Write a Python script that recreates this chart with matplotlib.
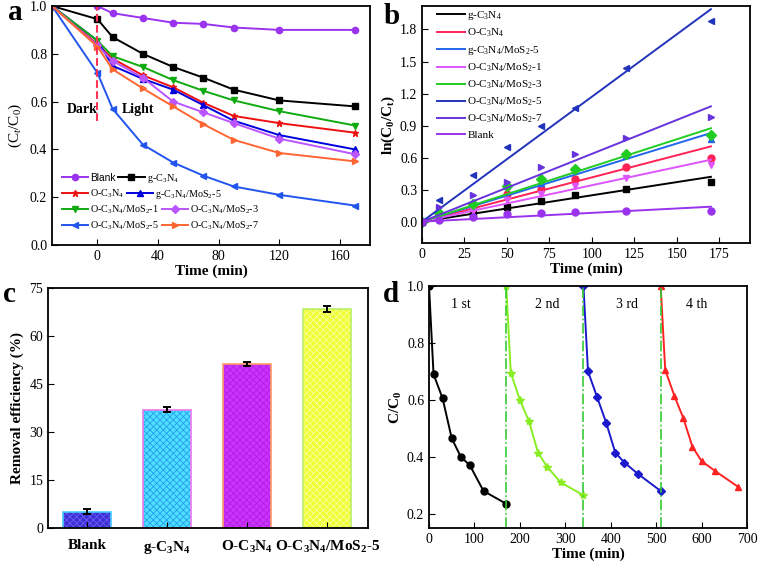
import numpy as np
import matplotlib
matplotlib.use("Agg")
import matplotlib.pyplot as plt
from matplotlib.legend import Legend

plt.rcParams['font.family'] = ['Liberation Serif', 'DejaVu Serif']
plt.rcParams['mathtext.fontset'] = 'custom'
plt.rcParams['mathtext.rm'] = 'Liberation Serif'
plt.rcParams['mathtext.it'] = 'Liberation Serif:italic'
plt.rcParams['mathtext.bf'] = 'Liberation Serif:bold'
plt.rcParams['xtick.direction'] = 'in'
plt.rcParams['ytick.direction'] = 'in'
plt.rcParams['axes.linewidth'] = 1.3
plt.rcParams['hatch.linewidth'] = 0.6

# ---------------- panel a : degradation curves ----------------
time_a = [-30, 0, 10, 30, 50, 70, 90, 120, 170]
a_blank = [1.0, 1.0, 0.97, 0.95, 0.93, 0.925, 0.91, 0.90, 0.90]
a_gcn = [1.0, 0.945, 0.87, 0.80, 0.745, 0.70, 0.65, 0.605, 0.58]
a_ocn = [1.0, 0.84, 0.78, 0.71, 0.66, 0.595, 0.54, 0.51, 0.47]
a_gcn_mos5 = [1.0, 0.855, 0.75, 0.695, 0.65, 0.585, 0.52, 0.46, 0.40]
a_ocn_mos1 = [1.0, 0.855, 0.79, 0.745, 0.69, 0.645, 0.605, 0.56, 0.50]
a_ocn_mos3 = [1.0, 0.835, 0.77, 0.70, 0.60, 0.555, 0.51, 0.445, 0.38]
a_ocn_mos5 = [1.0, 0.72, 0.57, 0.42, 0.345, 0.29, 0.245, 0.21, 0.165]
a_ocn_mos7 = [1.0, 0.83, 0.735, 0.655, 0.58, 0.505, 0.44, 0.385, 0.35]

# ---------------- panel b : kinetics ----------------
time_b = [0, 10, 30, 50, 70, 90, 120, 170]
b_gcn = [0, 0.03, 0.07, 0.14, 0.19, 0.25, 0.305, 0.375]
b_ocn = [0, 0.07, 0.13, 0.26, 0.31, 0.40, 0.51, 0.60]
b_gcn_mos5 = [0, 0.11, 0.18, 0.33, 0.36, 0.50, 0.62, 0.77]
b_ocn_mos1 = [0, 0.05, 0.10, 0.20, 0.26, 0.33, 0.41, 0.53]
b_ocn_mos3 = [0, 0.08, 0.17, 0.33, 0.40, 0.49, 0.63, 0.81]
b_ocn_mos5 = [0, 0.20, 0.44, 0.695, 0.90, 1.06, 1.44, 1.88]
b_ocn_mos7 = [0, 0.14, 0.25, 0.375, 0.515, 0.63, 0.78, 0.98]
b_blank = [0, 0.02, 0.04, 0.07, 0.077, 0.09, 0.10, 0.10]
# end points of the fitted lines (t = 0 and t = 170)
fit_t = [0, 170]
fit_end = [0.42, 0.705, 0.83, 0.58, 0.875, 1.99, 1.08, 0.14]

# ---------------- panel c : removal efficiency ----------------
c_labels = ['Blank', r'g-C$_\mathbf{3}$N$_\mathbf{4}$', r'O-C$_\mathbf{3}$N$_\mathbf{4}$',
            r'O-C$_\mathbf{3}$N$_\mathbf{4}$/MoS$_\mathbf{2}$-5']
c_values = [5.1, 37.0, 51.3, 68.5]
c_errors = [0.8, 0.9, 0.6, 0.9]

# ---------------- panel d : recycling ----------------
d_t1 = [0, 10, 30, 50, 70, 90, 120, 170]
d_c1 = [1.0, 0.69, 0.605, 0.465, 0.40, 0.37, 0.28, 0.235]
d_t2 = [170, 180, 200, 220, 240, 260, 290, 340]
d_c2 = [1.0, 0.695, 0.60, 0.525, 0.415, 0.365, 0.31, 0.265]
d_t3 = [340, 350, 370, 390, 410, 430, 460, 510]
d_c3 = [1.0, 0.70, 0.61, 0.52, 0.415, 0.38, 0.34, 0.28]
d_t4 = [510, 520, 540, 560, 580, 600, 630, 680]
d_c4 = [1.0, 0.705, 0.615, 0.535, 0.435, 0.385, 0.35, 0.295]
cycle_bounds = [170, 340, 510]
cycle_names = ['1 st', '2 nd', '3 rd', '4 th']
cycle_text_x = [70, 260, 435, 590]

lbl_blank = 'Blank'
lbl_gcn = r'g-C$_3$N$_4$'
lbl_ocn = r'O-C$_3$N$_4$'
lbl_gcn5 = r'g-C$_3$N$_4$/MoS$_2$-5'
lbl_ocn1 = r'O-C$_3$N$_4$/MoS$_2$-1'
lbl_ocn3 = r'O-C$_3$N$_4$/MoS$_2$-3'
lbl_ocn5 = r'O-C$_3$N$_4$/MoS$_2$-5'
lbl_ocn7 = r'O-C$_3$N$_4$/MoS$_2$-7'

fig = plt.figure(figsize=(7.58, 5.70), dpi=100)
W, H = 758.0, 570.0


def add_ax(l, t, r, b):
    return fig.add_axes([l / W, 1 - b / H, (r - l) / W, (b - t) / H])


TICK = 10
LAB = 11

# ======================= a =======================
ax = add_ax(52, 6, 370, 245)
series_a = [
    (a_blank, '#9933ee', 'o', lbl_blank),
    (a_gcn, 'black', 's', lbl_gcn),
    (a_ocn, '#ee1111', '*', lbl_ocn),
    (a_gcn_mos5, '#0000dd', '^', lbl_gcn5),
    (a_ocn_mos1, '#11aa11', 'v', lbl_ocn1),
    (a_ocn_mos3, '#bb55ff', 'D', lbl_ocn3),
    (a_ocn_mos5, '#2255ee', '<', lbl_ocn5),
    (a_ocn_mos7, '#ff6633', '>', lbl_ocn7),
]
handles = []
for vals, col, mk, lb in series_a:
    h, = ax.plot(time_a, vals, color=col, marker=mk, ms=4.5, lw=1.4, label=lb)
    handles.append(h)
ax.plot([0, 0], [0.52, 1.0], color='#ff3355', ls='--', lw=1.5)
ax.text(-10, 0.567, 'Dark', ha='center', va='center', fontsize=10, fontweight='bold')
ax.text(27, 0.567, 'Light', ha='center', va='center', fontsize=10, fontweight='bold')
ax.set_xlim(-30, 180)
ax.set_ylim(0, 1.0)
ax.set_xticks([0, 40, 80, 120, 160])
ax.set_yticks(np.arange(0, 1.01, 0.2))
ax.yaxis.set_major_formatter(matplotlib.ticker.FormatStrFormatter('%.1f'))
ax.tick_params(labelsize=TICK, length=4)
ax.set_xlabel('Time (min)', fontsize=LAB, fontweight='bold', labelpad=1)
ax.set_ylabel(r'(C$_t$/C$_0$)', fontsize=LAB, labelpad=4)

# legend rows flow left to right, so one small legend per row
row_y = [0.280, 0.213, 0.146, 0.079]
for r, yy in enumerate(row_y):
    pair = handles[2 * r:2 * r + 2]
    leg = Legend(ax, pair, [p.get_label() for p in pair], ncol=2, loc='center left',
                 bbox_to_anchor=(0.031, yy), frameon=False, fontsize=7.3,
                 handlelength=2.6, columnspacing=0.25, handletextpad=0.2,
                 borderpad=0, borderaxespad=0)
    if r == 0:
        leg.get_texts()[0].set_fontfamily('Liberation Sans')
    ax.add_artist(leg)

# ======================= b =======================
ax = add_ax(422, 6, 750, 243)
series_b = [
    (b_gcn, 'black', 's', lbl_gcn),
    (b_ocn, '#ff2255', 'o', lbl_ocn),
    (b_gcn_mos5, '#2266ee', '^', lbl_gcn5),
    (b_ocn_mos1, '#dd55ff', 'v', lbl_ocn1),
    (b_ocn_mos3, '#22cc22', 'D', lbl_ocn3),
    (b_ocn_mos5, '#2233bb', '<', lbl_ocn5),
    (b_ocn_mos7, '#6633dd', '>', lbl_ocn7),
    (b_blank, '#9933ee', 'o', lbl_blank),
]
for (vals, col, mk, lb), end in zip(series_b, fit_end):
    ax.plot(fit_t, [0, end], color=col, lw=1.4, label=lb)
    ax.plot(time_b, vals, ls='none', marker=mk, color=col, ms=5)
ax.set_xlim(0, 193)
ax.set_ylim(-0.2, 2.02)
ax.set_xticks(np.arange(0, 176, 25))
ax.set_yticks(np.arange(0, 1.81, 0.3))
ax.yaxis.set_major_formatter(matplotlib.ticker.FormatStrFormatter('%.1f'))
ax.tick_params(labelsize=TICK, length=4)
ax.set_xlabel('Time (min)', fontsize=LAB, fontweight='bold', labelpad=1)
ax.set_ylabel(r'ln(C$_\mathbf{0}$/C$_\mathbf{t}$)', fontsize=LAB, fontweight='bold', labelpad=2)
ax.legend(loc='upper left', bbox_to_anchor=(0.02, 1.025), frameon=False, fontsize=8,
          handlelength=2.5, labelspacing=0.42, handletextpad=0.2, borderpad=0.3)

# ======================= c =======================
ax = add_ax(48, 288, 368, 528)
face = ['#3b2fd6', '#4de0ff', '#cc33ff', '#eeff33']
hatch_col = ['#6a5cf0', '#2a9cf0', '#b020e0', '#f8ff99']
edge = ['#44ccff', '#ee77ee', '#ff9966', '#bbee66']
xpos = np.arange(len(c_values))
ax.bar(xpos, c_values, width=0.6, color=face, edgecolor=hatch_col, hatch='xxxxx', lw=0)
ax.bar(xpos, c_values, width=0.6, fill=False, edgecolor=edge, lw=1.2)
ax.errorbar(xpos, c_values, yerr=c_errors, fmt='none', ecolor='black', elinewidth=1.4,
            capsize=3, capthick=1.4)
ax.set_xlim(-0.49, 3.51)
ax.set_ylim(0, 75)
ax.set_yticks(np.arange(0, 76, 15))
ax.set_xticks(xpos)
ax.set_xticklabels(c_labels, fontsize=LAB, fontweight='bold')
ax.tick_params(axis='y', labelsize=TICK, length=4)
ax.tick_params(axis='x', length=4, pad=8)
ax.set_ylabel('Removal efficiency (%)', fontsize=LAB, fontweight='bold', labelpad=4)

# ======================= d =======================
ax = add_ax(429, 286, 747, 528)
ax.plot(d_t1, d_c1, color='black', marker='o', ms=5, lw=1.4)
ax.plot(d_t2, d_c2, color='#88ee22', marker='*', ms=6, lw=1.4)
ax.plot(d_t3, d_c3, color='#1a1acc', marker='D', ms=4.5, lw=1.4)
ax.plot(d_t4, d_c4, color='#ff2222', marker='^', ms=5, lw=1.4)
for xb in cycle_bounds:
    ax.axvline(xb, color='#33cc33', ls='-.', lw=1.2)
for xt, nm in zip(cycle_text_x, cycle_names):
    ax.text(xt, 0.935, nm, ha='center', va='center', fontsize=10)
ax.set_xlim(0, 700)
ax.set_ylim(0.15, 1.0)
ax.set_xticks(np.arange(0, 701, 100))
ax.set_yticks(np.arange(0.2, 1.01, 0.2))
ax.yaxis.set_major_formatter(matplotlib.ticker.FormatStrFormatter('%.1f'))
ax.tick_params(labelsize=TICK, length=4)
ax.set_xlabel('Time (min)', fontsize=LAB, fontweight='bold', labelpad=1)
ax.set_ylabel(r'C/C$_\mathbf{0}$', fontsize=LAB, fontweight='bold', labelpad=2)

# panel letters
for x, y, s in [(8, 20, 'a'), (384, 24, 'b'), (3, 302, 'c'), (383, 302, 'd')]:
    fig.text(x / W, 1 - y / H, s, fontsize=21, fontweight='bold', va='baseline')

fig.savefig('out.png', dpi=100)
